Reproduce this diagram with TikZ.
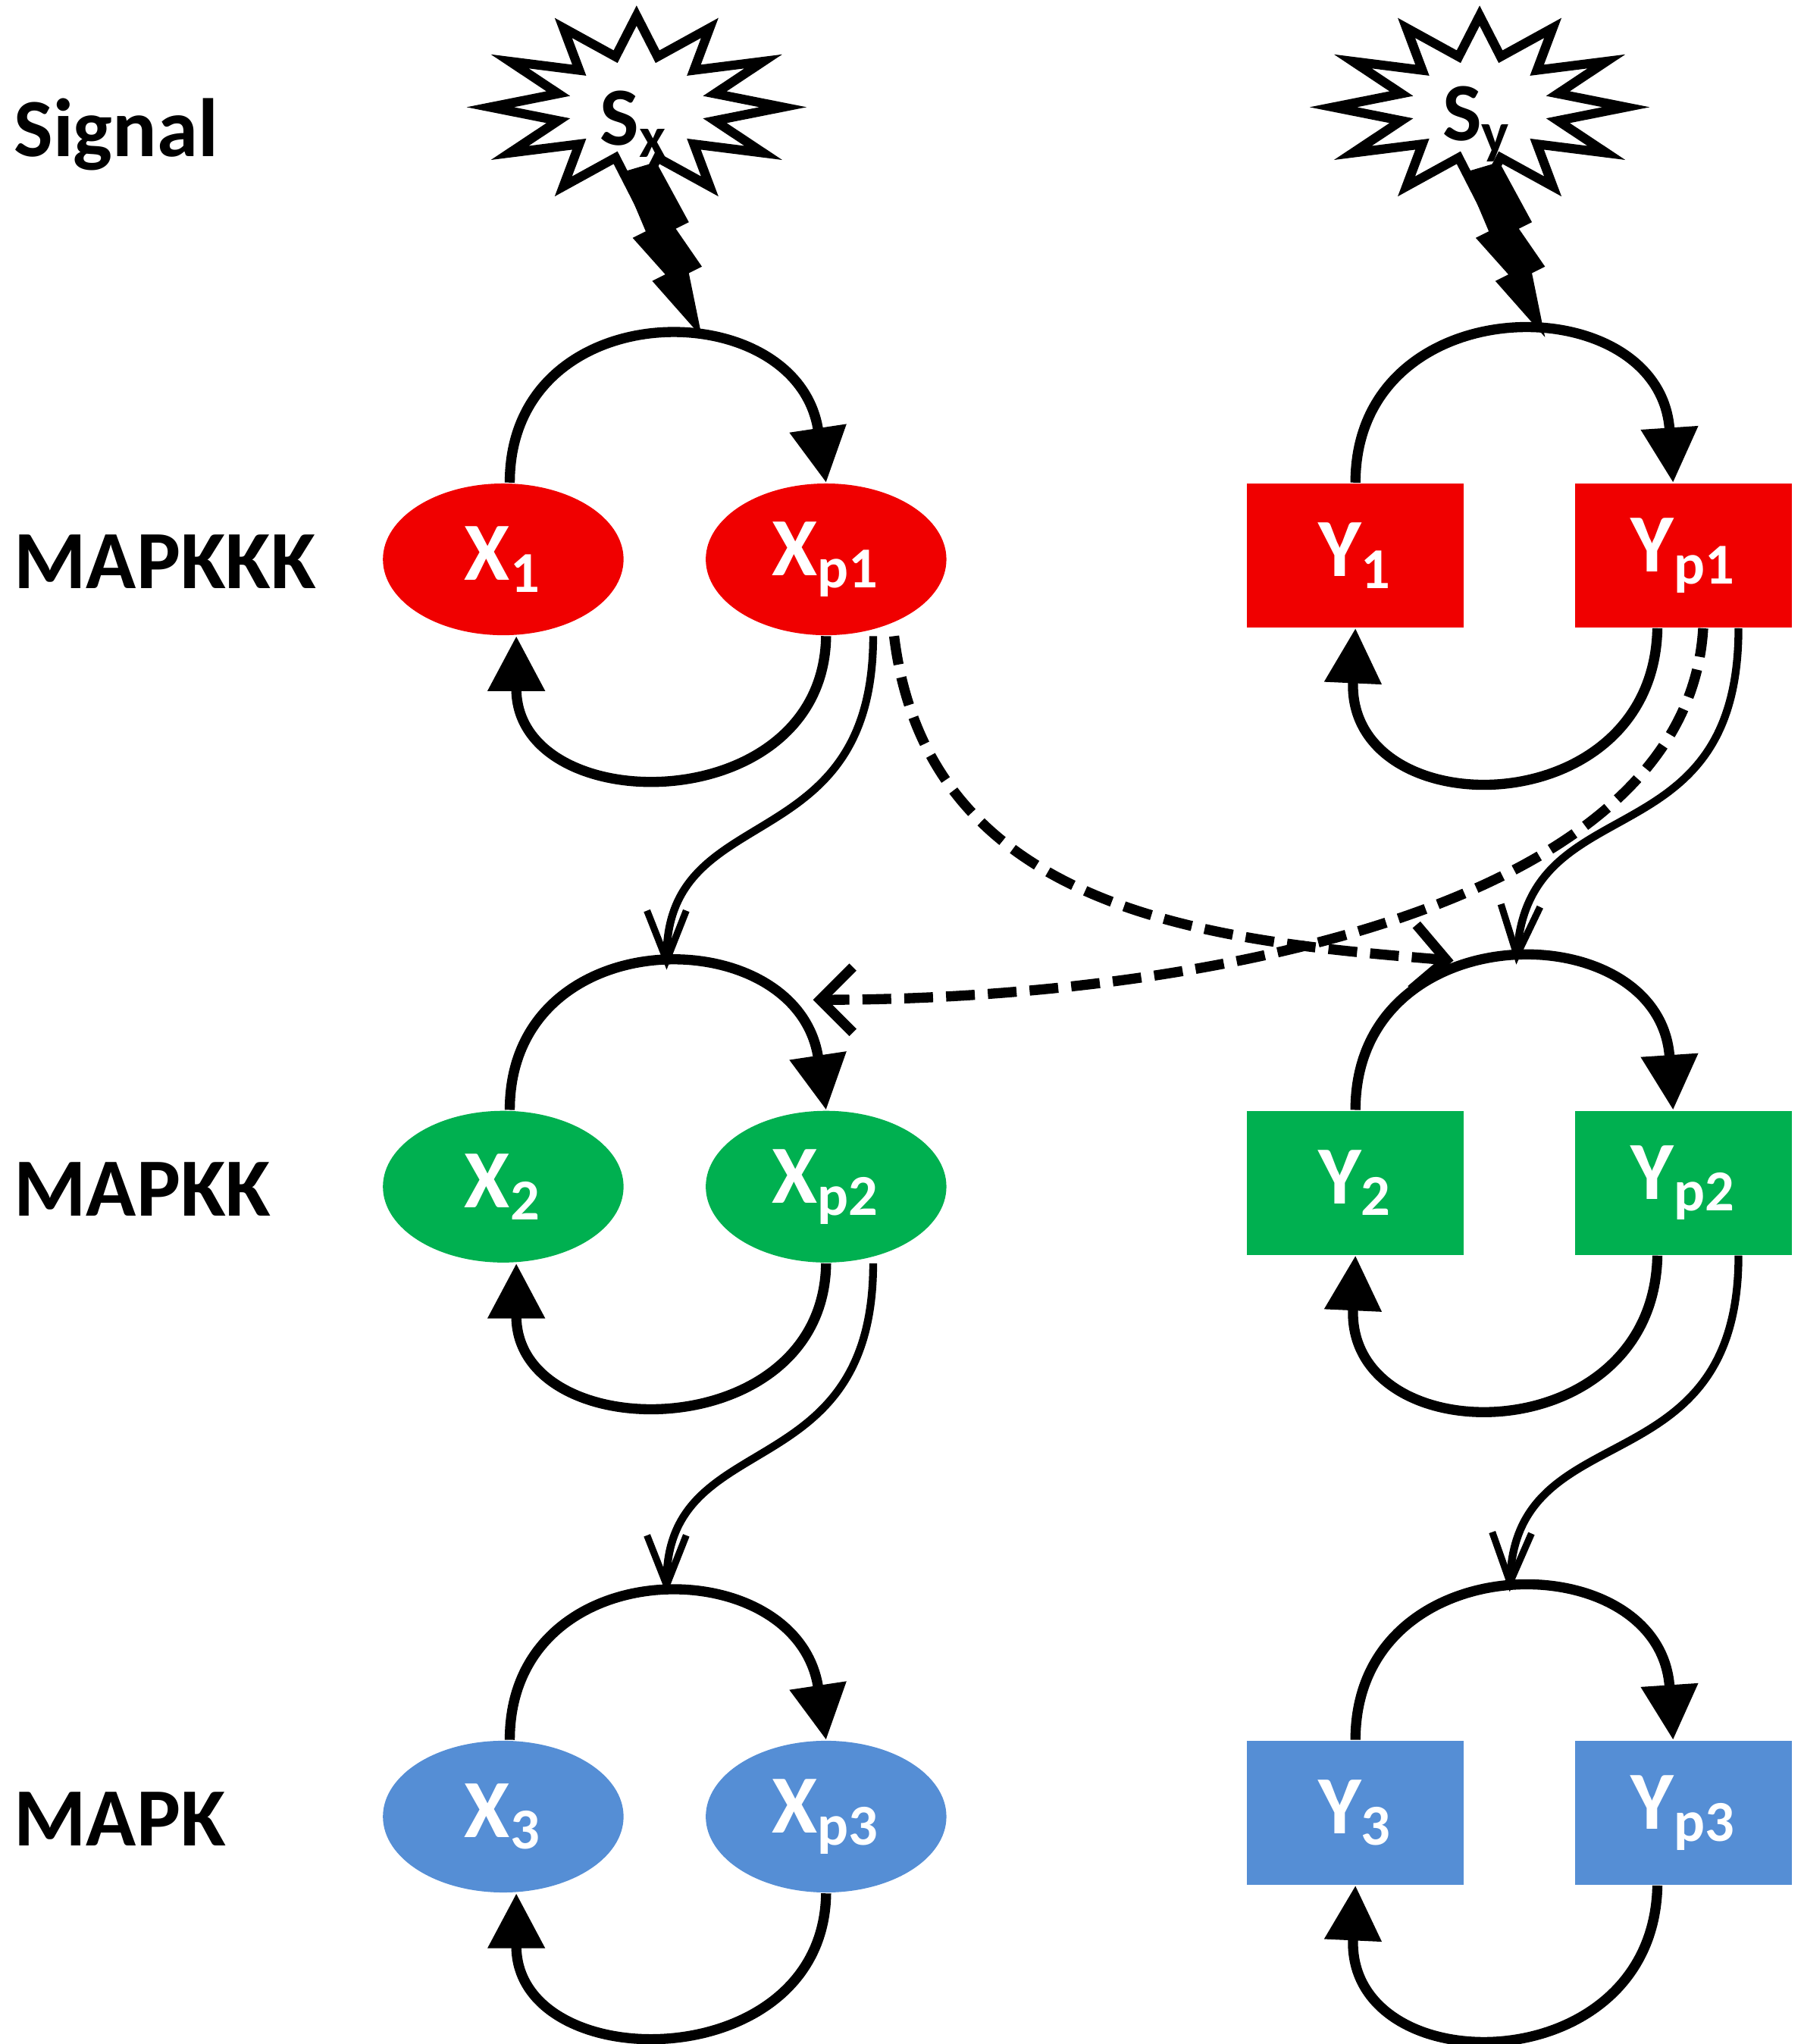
\documentclass[tikz,border=0pt]{standalone}
\usepackage{fontspec}
\setmainfont{Carlito}
\usetikzlibrary{shapes.geometric,arrows.meta}
\definecolor{cr}{RGB}{240,0,0}
\definecolor{cg}{RGB}{0,176,80}
\definecolor{cb}{RGB}{85,142,213}
\begin{document}
\begin{tikzpicture}[x=0.01cm,y=-0.01cm,
  txt/.style={font=\fontsize{18}{20}\selectfont\bfseries},
  lab/.style={txt,anchor=west,inner sep=0},
  ell/.style={ellipse,minimum width=1.84cm,minimum height=1.16cm,inner sep=0,txt,text=white},
  box/.style={rectangle,minimum width=1.66cm,minimum height=1.1cm,inner sep=0,txt,text=white},
  cyc/.style={line width=2.2pt,-{Triangle[length=0.42cm,width=0.42cm]}},
  casc/.style={line width=1.7pt,-{Straight Barb[length=0.38cm,width=0.3cm,line width=1.5pt]}},
  dsh/.style={line width=2.2pt,dash pattern=on 0.22cm off 0.1cm,-{Straight Barb[length=0.25cm,width=0.5cm,line width=2.2pt]}}]
\useasboundingbox (0,0) rectangle (1380,1564);
% labels
\node[lab] (lsig) at (10,103) {Signal};
\node[lab] (l1) at (10,430) {MAPKKK};
\node[lab] (l2) at (10,910) {MAPKK};
\node[lab] (l3) at (10,1392) {MAPK};
% signals
\foreach \s in {487,1132}{
  \begin{scope}[shift={(\s,82)}]
  \draw[line width=2pt,fill=white,line join=miter]
    (0:112 and 70) \foreach \a in {0,30,...,330}{ -- (\a:112 and 70) -- (\a+15:62 and 40)} -- cycle;
  \fill (-12,50) -- (15,42) -- (40,88) -- (30,93) -- (50,122) -- (40,127) -- (50,176)
     -- (12,133) -- (22,128) -- (-3,100) -- (7,95) -- cycle;
  \end{scope}
}
\node[txt,text=black,inner sep=0] (sx) at (485,95) {S\textsubscript{x}};
\node[txt,text=black,inner sep=0] (sy) at (1130,95) {S\textsubscript{y}};
% nodes
\foreach \r/\y/\c in {1/428/cr,2/908/cg,3/1390/cb}{
  \node[ell,fill=\c] (X\r) at (385,\y) {X\textsubscript{\r}};
  \node[ell,fill=\c] (Xp\r) at (632,\y) {X\textsubscript{p\r}};
  \node[box,fill=\c] (Y\r) at (1037,\y-3) {Y\textsubscript{\r}};
  \node[box,fill=\c] (Yp\r) at (1288,\y-3) {Y\textsubscript{p\r}};
  \draw[cyc] ([xshift=0.05cm]X\r.north) .. controls (390,\y-205) and (610,\y-205) .. (Xp\r.north);
  \draw[cyc] (Xp\r.south) .. controls (630,\y+200) and (395,\y+200) .. ([xshift=0.1cm]X\r.south);
  \draw[cyc] (Y\r.north) .. controls (1037,\y-210) and (1270,\y-210) .. ([xshift=-0.08cm]Yp\r.north);
  \draw[cyc] ([xshift=-0.2cm]Yp\r.south) .. controls (1265,\y+205) and (1030,\y+205) .. (Y\r.south);
}
% cascade
\coordinate (t2x) at (510,742);
\coordinate (t3x) at (510,1220);
\coordinate (t2y) at (1160,738);
\coordinate (t3y) at (1155,1218);
\draw[casc] ([xshift=0.36cm]Xp1.south) .. controls (668,660) and (510,610) .. (t2x);
\draw[casc] ([xshift=0.36cm]Xp2.south) .. controls (668,1140) and (510,1090) .. (t3x);
\draw[casc] ([xshift=0.42cm]Yp1.south) .. controls (1330,660) and (1170,600) .. (t2y);
\draw[casc] ([xshift=0.42cm]Yp2.south) .. controls (1330,1140) and (1160,1080) .. (t3y);
% cross talk
\coordinate (dx) at (1112,735);
\coordinate (dy) at (622,765);
\draw[dsh] ([xshift=0.52cm]Xp1.south) .. controls (710,700) and (930,720) .. (dx);
\draw[dsh] ([xshift=0.15cm]Yp1.south) .. controls (1290,700) and (900,765) .. (dy);
\end{tikzpicture}
\end{document}
